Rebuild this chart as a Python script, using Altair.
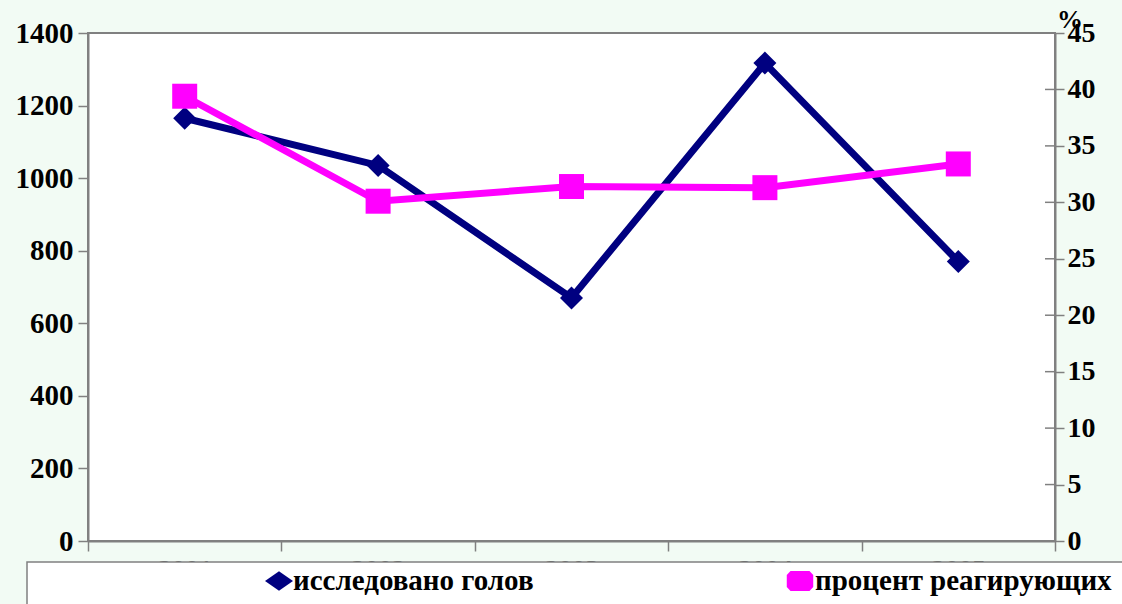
import altair as alt
import pandas as pd

# Survey results by year
years = ["2001", "2002", "2003", "2004", "2005"]
heads_examined = [1165, 1035, 670, 1317, 770]
reacting_pct = [39.4, 30.1, 31.4, 31.3, 33.4]

left_ticks = [0, 200, 400, 600, 800, 1000, 1200, 1400]
right_ticks = [0, 5, 10, 15, 20, 25, 30, 35, 40, 45]
legend_labels = ["исследовано голов", "процент реагирующих"]

df = pd.DataFrame({"year": years, "heads": heads_examined, "pct": reacting_pct})
right_tick_df = pd.DataFrame({"pct": right_ticks})

W, H = 967, 508
FONT = "'Liberation Serif', 'DejaVu Serif', serif"
NAVY = "#000080"
MAGENTA = "#FF00FF"
GREY = "#808080"

# wide legend glyphs
WIDE_DIAMOND = "M-1,0L0,-0.7L1,0L0,0.7Z"
WIDE_ROUNDED = "M-1,-0.45L-0.72,-0.75L0.72,-0.75L1,-0.45L1,0.45L0.72,0.75L-0.72,0.75L-1,0.45Z"

x_enc = alt.X(
    "year:N",
    sort=years,
    bandPosition=0.5,
    scale=alt.Scale(type="band", paddingInner=0, paddingOuter=0),
    axis=alt.Axis(
        title="год",
        titleX=985,
        titleY=16,
        titleBaseline="top",
        titleAlign="center",
        titleFont=FONT,
        titleFontSize=27,
        titleFontWeight="bold",
        titleColor="#333333",
        labelAngle=0,
        labelFont=FONT,
        labelFontSize=27,
        labelFontWeight="bold",
        labelColor="#444444",
        labelPadding=6,
        tickBand="extent",
        tickSize=10,
        tickColor=GREY,
        tickWidth=1.5,
        domainColor=GREY,
        domainWidth=2,
        grid=False,
    ),
)

y_left = alt.Y(
    "heads:Q",
    scale=alt.Scale(domain=[0, 1400], nice=False),
    axis=alt.Axis(
        title=None,
        values=left_ticks,
        format="d",
        orient="left",
        labelFont=FONT,
        labelFontSize=29,
        labelFontWeight="bold",
        labelColor="black",
        labelPadding=5,
        tickSize=10,
        tickColor=GREY,
        tickWidth=1.5,
        domainColor=GREY,
        domainWidth=2,
        grid=False,
    ),
)

y_right = alt.Y(
    "pct:Q",
    scale=alt.Scale(domain=[0, 45], nice=False),
    axis=alt.Axis(
        title=None,
        values=right_ticks,
        format="d",
        orient="right",
        labelFont=FONT,
        labelFontSize=28,
        labelFontWeight="bold",
        labelColor="black",
        labelPadding=3,
        tickSize=9,
        tickColor=GREY,
        tickWidth=1.5,
        domainColor=GREY,
        domainWidth=2,
        grid=False,
    ),
)

base = alt.Chart(df)

heads_layer = alt.layer(
    base.mark_line(color=NAVY, strokeWidth=7).encode(x=x_enc, y=y_left),
    base.mark_point(shape="diamond", filled=True, size=529, color=NAVY, opacity=1).encode(x=x_enc, y=y_left),
)

pct_layer = alt.layer(
    # inner half of the crossing ticks on the right axis
    alt.Chart(right_tick_df).mark_rule(color=GREY, strokeWidth=1.5).encode(
        x=alt.value(W - 10), x2=alt.value(W), y=y_right
    ),
    base.mark_line(color=MAGENTA, strokeWidth=7).encode(x=x_enc, y=y_right),
    base.mark_point(shape="square", filled=True, size=625, color=MAGENTA, opacity=1).encode(x=x_enc, y=y_right),
)

one = pd.DataFrame({"k": [0]})

legend_box = alt.Chart(one).mark_rect(fill="white", stroke=GREY, strokeWidth=1.5).encode(
    x=alt.value(-61), x2=alt.value(1060), y=alt.value(529), y2=alt.value(590)
)

legend_heads_marker = alt.Chart(one).mark_point(
    shape=WIDE_DIAMOND, filled=True, size=784, color=NAVY, opacity=1
).encode(x=alt.value(191), y=alt.value(548))

legend_pct_marker = alt.Chart(one).mark_point(
    shape=WIDE_ROUNDED, filled=True, size=700, color=MAGENTA, opacity=1
).encode(x=alt.value(712), y=alt.value(548))

legend_heads_text = alt.Chart(pd.DataFrame({"label": [legend_labels[0]]})).mark_text(
    font=FONT, fontSize=29, fontWeight="bold", color="black", align="left", baseline="middle"
).encode(x=alt.value(205), y=alt.value(548), text="label:N")

legend_pct_text = alt.Chart(pd.DataFrame({"label": [legend_labels[1]]})).mark_text(
    font=FONT, fontSize=29, fontWeight="bold", color="black", align="left", baseline="middle"
).encode(x=alt.value(727), y=alt.value(548), text="label:N")

percent_sign = alt.Chart(pd.DataFrame({"label": ["%"]})).mark_text(
    font=FONT, fontSize=26, fontWeight="bold", color="black", align="center", baseline="middle"
).encode(x=alt.value(982), y=alt.value(-13), text="label:N")

chart = (
    alt.layer(
        heads_layer,
        pct_layer,
        legend_box,
        legend_heads_marker,
        legend_pct_marker,
        legend_heads_text,
        legend_pct_text,
        percent_sign,
    )
    .resolve_scale(y="independent")
    .properties(
        width=W,
        height=H,
        autosize=alt.AutoSizeParams(type="none"),
        padding={"left": 88, "top": 33, "right": 67, "bottom": 63},
        background="#f2fbf4",
    )
    .configure_view(stroke=GREY, strokeWidth=2, fill="white")
)

chart.save("out.html", embed_options={"renderer": "svg", "actions": False})
